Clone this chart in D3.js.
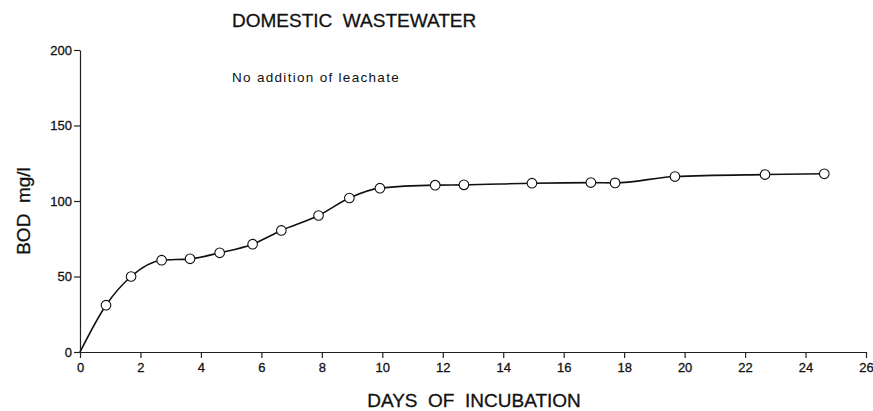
<!DOCTYPE html>
<html>
<head>
<meta charset="utf-8">
<script src="https://cdn.jsdelivr.net/npm/d3@7"></script>
<style>
  body { margin: 0; background: #fff; }
  svg { font-family: "Liberation Sans", Arial, sans-serif; }
</style>
</head>
<body>
<svg width="873" height="411"></svg>
<script>
// data
const days = [0, 0.86, 1.69, 2.70, 3.64, 4.62, 5.71, 6.66, 7.89, 8.91, 9.92, 11.75, 12.7, 14.95, 16.9, 17.7, 19.68, 22.66, 24.62];
const bod  = [0, 31, 50, 60.8, 61.7, 65.7, 71.4, 80.5, 90.4, 102, 108.5, 110.5, 110.7, 111.8, 112.2, 112, 116.2, 117.5, 118];
const xTicks = [0, 2, 4, 6, 8, 10, 12, 14, 16, 18, 20, 22, 24, 26];
const yTicks = [0, 50, 100, 150, 200];

const data = days.map((d, i) => ({ day: d, bod: bod[i] }));

//Dimensions layout
const margin = { top: 50, left: 80 };
const width = 786;
const height = 302;

const svg = d3.select('svg');
const chart = svg.append('g')
    .attr('transform', 'translate(' + margin.left + ',' + margin.top + ')');

//Scales
const xScale = d3.scaleLinear().domain([0, 26]).range([0, width]);
const yScale = d3.scaleLinear().domain([0, 200]).range([height, 0]);

//Axes
const xAxis = d3.axisBottom(xScale).tickValues(xTicks).tickSize(6).tickPadding(5).tickSizeOuter(0);
const yAxis = d3.axisLeft(yScale).tickValues(yTicks).tickSize(6).tickPadding(2).tickSizeOuter(0);

const xAxisGroup = chart.append('g')
    .attr('transform', 'translate(0,' + height + ')')
    .call(xAxis);
const yAxisGroup = chart.append('g').call(yAxis);

[xAxisGroup, yAxisGroup].forEach(g => {
    g.select('.domain').attr('stroke', '#222').attr('stroke-width', 1.2);
    g.selectAll('.tick line').attr('stroke', '#222').attr('stroke-width', 1.2);
    g.selectAll('.tick text')
        .attr('fill', '#111').attr('font-size', 13)
        .attr('stroke', '#111').attr('stroke-width', 0.3);
});

//Line
const line = d3.line()
    .x(d => xScale(d.day))
    .y(d => yScale(d.bod))
    .curve(d3.curveMonotoneX);

chart.append('path')
    .attr('d', line(data))
    .attr('fill', 'none')
    .attr('stroke', '#111')
    .attr('stroke-width', 1.6);

//Marks
chart.selectAll('circle')
    .data(data.slice(1))
    .join('circle')
    .attr('cx', d => xScale(d.day))
    .attr('cy', d => yScale(d.bod))
    .attr('r', 4.8)
    .attr('fill', '#fff')
    .attr('stroke', '#111')
    .attr('stroke-width', 1.1);

//Labels
svg.append('text')
    .attr('x', 232).attr('y', 27)
    .attr('font-size', 19).attr('fill', '#111')
    .attr('stroke', '#111').attr('stroke-width', 0.3)
    .style('white-space', 'pre')
    .text('DOMESTIC  WASTEWATER');

svg.append('text')
    .attr('x', 232).attr('y', 82)
    .attr('font-size', 13.5).attr('fill', '#111')
    .attr('letter-spacing', 1.3)
    .text('No addition of leachate');

svg.append('text')
    .attr('x', 474).attr('y', 407)
    .attr('text-anchor', 'middle')
    .attr('font-size', 19).attr('fill', '#111')
    .attr('stroke', '#111').attr('stroke-width', 0.3)
    .style('white-space', 'pre')
    .text('DAYS  OF  INCUBATION');

svg.append('text')
    .attr('transform', 'translate(30,211) rotate(-90)')
    .attr('text-anchor', 'middle')
    .attr('font-size', 19).attr('fill', '#111')
    .attr('stroke', '#111').attr('stroke-width', 0.3)
    .style('white-space', 'pre')
    .text('BOD  mg/l');
</script>
</body>
</html>
